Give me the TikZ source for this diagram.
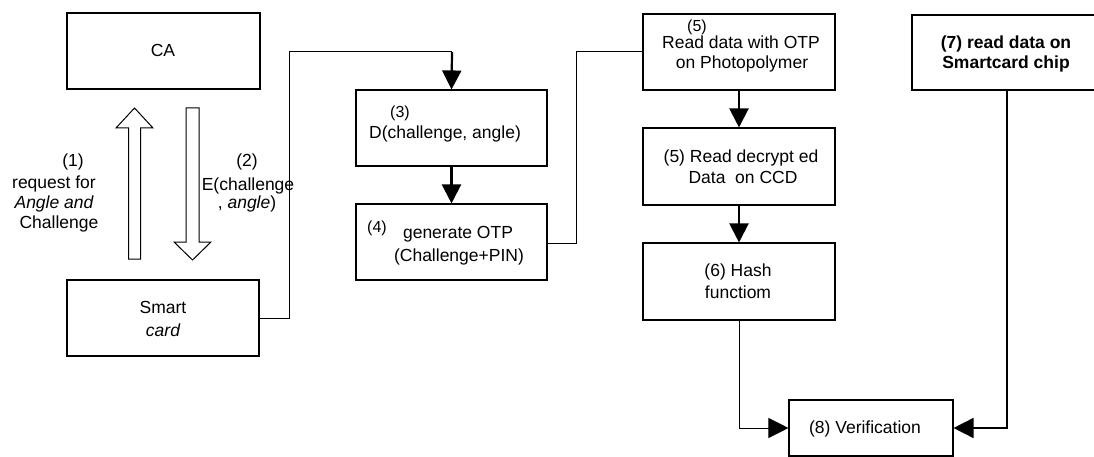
\documentclass[tikz,border=0pt]{standalone}
\usepackage{fontspec}
\setmainfont{Liberation Sans}
\usetikzlibrary{arrows.meta}

\tikzset{
  stepbox/.style={draw, line width=1.1pt, inner sep=0pt, fill=white},
  txt/.style={anchor=base, inner sep=0pt, font=\fontsize{17.5}{20}\selectfont},
  smalltxt/.style={anchor=base, inner sep=0pt, font=\fontsize{16}{18}\selectfont},
  boldtxt/.style={anchor=base, inner sep=0pt, font=\fontsize{17.5}{20}\selectfont\bfseries},
  link/.style={draw, line width=1pt},
  flow/.style={draw, line width=2.2pt, -{Triangle[width=19pt,length=19pt]}},
  flowthin/.style={draw, line width=1pt, -{Triangle[width=20pt,length=20pt]}},
  blockarrow/.style={draw, line width=1pt, fill=white, line join=miter},
}

\begin{document}
\begin{tikzpicture}[x=1pt, y=-1pt]
\useasboundingbox (0,0) rectangle (1094,457);
\clip (0,0) rectangle (1094,457);

% ---------- boxes ----------
\node[stepbox, minimum width=193pt, minimum height=76pt] (ca)  at (163.5,51)  {};
\node[stepbox, minimum width=192pt, minimum height=76pt] (sc)  at (163,318)   {};
\node[stepbox, minimum width=191pt, minimum height=76pt] (dec) at (451.5,128) {};
\node[stepbox, minimum width=191pt, minimum height=76pt] (otp) at (451.5,242) {};
\node[stepbox, minimum width=192pt, minimum height=76pt] (rd)  at (739,52)    {};
\node[stepbox, minimum width=192pt, minimum height=77pt] (ccd) at (739,166.5) {};
\node[stepbox, minimum width=192pt, minimum height=77pt] (hash) at (739,281.5) {};
\node[stepbox, minimum width=190pt, minimum height=75pt] (chip) at (1007,52.5) {};
\node[stepbox, minimum width=164pt, minimum height=56pt] (ver) at (871,428)   {};

% ---------- box texts ----------
\node[txt] (tca) at (163,57) {CA};
\node[txt] (tsc1) at (163,313) {Smart};
\node[txt] (tsc2) at (163,336) {\itshape card};

\node[smalltxt] (tdec1) at (400,118) {(3)};
\node[txt] (tdec2) at (445,139) {D(challenge, angle)};

\node[smalltxt] (totp1) at (377,232) {(4)};
\node[txt] (totp2) at (458,238) {generate OTP};
\node[txt] (totp3) at (459,261) {(Challenge+PIN)};

\node[smalltxt] (trd1) at (697,32) {(5)};
\node[txt] (trd2) at (741,49) {Read data with OTP};
\node[txt] (trd3) at (742,69) {on Photopolymer};

\node[txt] (tccd1) at (741,163) {(5) Read decrypt ed};
\node[txt] (tccd2) at (743,184) {Data~~on CCD};

\node[txt] (thash1) at (738,276) {(6) Hash};
\node[txt] (thash2) at (738,298) {functiom};

\node[boldtxt] (tchip1) at (1006,49) {(7) read data on};
\node[boldtxt] (tchip2) at (1006,69) {Smartcard chip};

\node[txt] (tver) at (865,433) {(8) Verification};

% ---------- hollow arrows between CA and the smart card ----------
\draw[blockarrow] (128.5,259) -- (128.5,128) -- (116,128) -- (134.5,108)
  -- (153,128) -- (140.5,128) -- (140.5,259) -- cycle;
\draw[blockarrow] (186,108) -- (199,108) -- (199,242) -- (211,242)
  -- (192.5,260) -- (174,242) -- (186,242) -- cycle;

\node[txt] (l1a) at (73,167) {(1)};
\node[txt] (l1b) at (54,189) {request for};
\node[txt] (l1c) at (54,208) {\itshape Angle and};
\node[txt] (l1d) at (59,228) {Challenge};

\node[txt] (l2a) at (247,167) {(2)};
\node[txt] (l2b) at (248,190) {E(challenge};
\node[txt] (l2c) at (247,208) {, \textit{angle})};

% ---------- connectors ----------
\coordinate (c1) at (289,318);
\coordinate (c2) at (289,52);
\coordinate (c3) at (452,52);
\draw[link] (sc.east) -- (c1) -- (c2) -- (c3);
\draw[flow] (c3) -- (dec.north);

\draw[flow] (dec.south) -- (otp.north);

\coordinate (c4) at (576,243);
\coordinate (c5) at (576,52);
\draw[link] (otp.east |- c4) -- (c4) -- (c5) -- (rd.west);

\draw[flow] (rd.south) -- (ccd.north);
\draw[flow] (ccd.south) -- (hash.north);

\draw[flowthin] (hash.south) |- (ver.west);
\draw[flowthin, line width=1.6pt] (chip.south) |- (ver.east);

\end{tikzpicture}
\end{document}
